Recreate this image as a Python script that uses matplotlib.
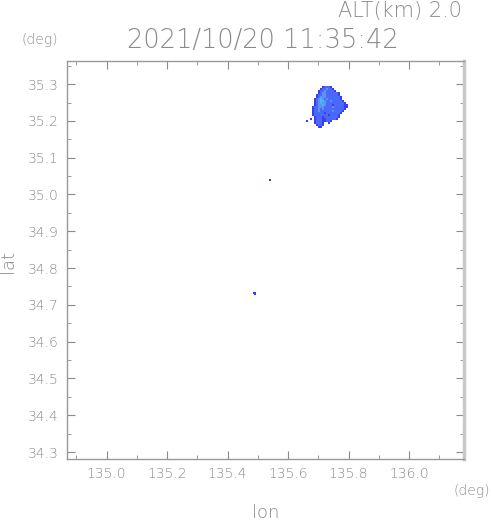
import numpy as np
import matplotlib
matplotlib.use("Agg")
import matplotlib.pyplot as plt
from matplotlib.colors import ListedColormap, BoundaryNorm

# echo grid (level codes per cell, '.' = no echo)
blob_rows = [
    "........12221",
    ".......1223221",
    "......122322221",
    "......12332222221",
    ".....122332222221",
    ".....1233322222221",
    "....12343232222221",
    "....123443223222221",
    "....1234332222222221",
    "....12334322212222211",
    "...122333222232222211",
    "...12232322222222221",
    "...1223222222322221",
    "...122222122222221",
    "...12222222122221",
    "....1222122222221",
    "..1.122211222221",
    "1...122211221",
    "....12221..1",
    ".....1221",
    "......11",
]
lon0, lat0 = 135.6587, 35.2954      # upper-left corner of the grid
dlon, dlat = 0.00661, 0.00544

# isolated echo pixels
iso_lon = [135.540, 135.487, 135.490, 135.490]
iso_lat = [35.039, 34.732, 34.732, 34.729]

level_colors = ['#3a3cf2', '#4a68fa', '#5a92f6', '#45b8ec']

title = "2021/10/20 11:35:42"
alt_text = "ALT(km) 2.0"
xticks = [135.0, 135.2, 135.4, 135.6, 135.8, 136.0]
yticks = [34.3, 34.4, 34.5, 34.6, 34.7, 34.8, 34.9, 35.0, 35.1, 35.2, 35.3]
xlim = (134.868, 136.181)
ylim = (34.281, 35.363)

grey = '#8a8a8a'
plt.rcParams['font.weight'] = 'light'

width = max(len(r) for r in blob_rows)
grid = np.array([[0 if c == '.' else int(c) for c in row.ljust(width, '.')] for row in blob_rows],
                dtype=float)
grid = np.ma.masked_equal(grid, 0)
nr, nc = grid.shape
lon_edges = lon0 + dlon * np.arange(nc + 1)
lat_edges = lat0 - dlat * np.arange(nr + 1)

fig = plt.figure(figsize=(4.91, 5.21), dpi=100)
ax = fig.add_axes([0.1358, 0.119, 0.809, 0.764])

cmap = ListedColormap(level_colors)
norm = BoundaryNorm([0.5, 1.5, 2.5, 3.5, 4.5], cmap.N)
ax.pcolormesh(lon_edges, lat_edges, grid, cmap=cmap, norm=norm, shading='flat')
ax.scatter(iso_lon, iso_lat, s=2.5, marker='s', color=level_colors[0], linewidths=0)

ax.set_xlim(*xlim)
ax.set_ylim(*ylim)
ax.set_xticks(xticks)
ax.set_xticklabels([f"{v:.1f}" for v in xticks])
ax.set_yticks(yticks)
ax.set_yticklabels([f"{v:.1f}" for v in yticks])
ax.set_xticks(np.arange(134.9, 136.15, 0.2), minor=True)
ax.set_yticks(np.arange(34.35, 35.36, 0.1), minor=True)

ax.tick_params(which='both', direction='in', top=True, right=True, colors=grey,
               labelcolor=grey, labelsize=10)
ax.tick_params(which='major', length=6, width=0.8)
ax.tick_params(which='minor', length=3, width=0.6)
ax.tick_params(axis='x', pad=6)
ax.tick_params(axis='y', pad=6)

for side in ['left', 'bottom', 'top']:
    ax.spines[side].set_color('#999999')
    ax.spines[side].set_linewidth(1)
ax.spines['right'].set_color('#c8c8c8')
ax.spines['right'].set_linewidth(2.5)

fig.text(263 / 491, 1 - 40 / 521, title, ha='center', va='center', fontsize=18.5, color=grey)
fig.text(462 / 491, 1 - 11 / 521, alt_text, ha='right', va='center', fontsize=15, color=grey)
fig.text(39.5 / 491, 1 - 40 / 521, "(deg)", ha='center', va='center', fontsize=10, color=grey)
fig.text(472 / 491, 1 - 491 / 521, "(deg)", ha='center', va='center', fontsize=10, color=grey)
fig.text(265.5 / 491, 1 - 513 / 521, "lon", ha='center', va='center', fontsize=13, color=grey)
fig.text(8 / 491, 1 - 261 / 521, "lat", ha='center', va='center', fontsize=13, color=grey, rotation=90)

fig.savefig("out.png", dpi=100)
